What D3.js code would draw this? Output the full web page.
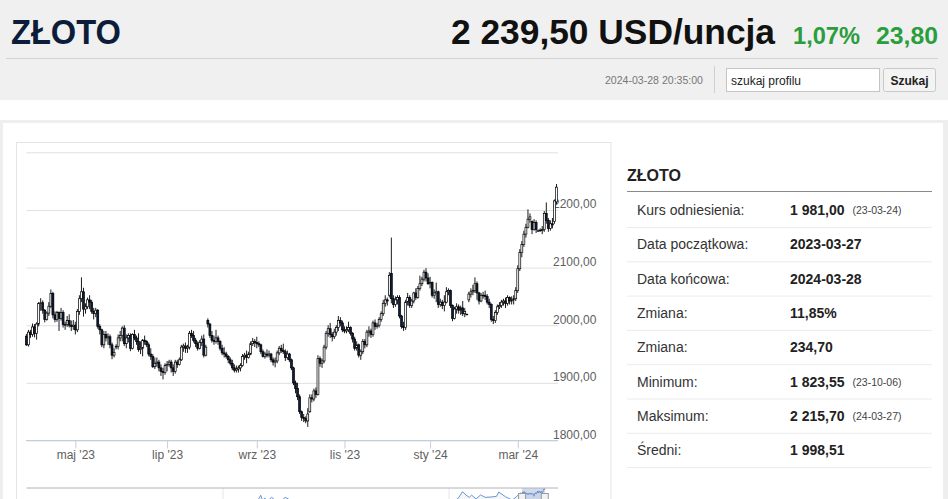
<!DOCTYPE html>
<html>
<head>
<meta charset="utf-8">
<script src="https://cdn.jsdelivr.net/npm/d3@7"></script>
<style>
  body { margin: 0; background: #fff; }
  svg { display: block; font-family: "Liberation Sans", Arial, sans-serif; }
</style>
</head>
<body>
<script>
// ---- data (gold, daily OHLC, 2023-03-27 .. 2024-03-28) ----
const holidays = ["2023-04-07", "2023-12-25", "2024-01-01"]

const opens = [
  1981,1966,1988,1984,1997, 1986,2002,2038,2039, 2026,2010,2021,2033,2055, 2018,2010,2022,2012,2022, 2001,2001,2008,2000,1998,
  2000,1992,2024,2046,2058, 2028,2032,2044,2040,2024, 2020,2026,1998,1992,1966, 1984,1978,1980,1966,1948,
  1963,1963,1978,1982,1995, 1968,1978,1982,1960,1984, 1978,1972,1958,1960,1974, 1972,1966,1950,1946,1928, 1934,1936,1926,1920,1918,
  1930,1932,1936,1926,1920, 1936,1932,1940,1962,1964, 1960,1962,1986,1982,1974, 1968,1960,1970,1976,1948,
  2008,2002,1982,1974,1972, 1978,1972,1960,1952,1950, 1946,1940,1934,1926,1922, 1924,1926,1930,1946,1948, 1944,1950,1968,1972,1970,
  1968,1966,1954,1946,1950, 1948,1950,1940,1936,1938, 1952,1960,1956,1954,1944, 1950,1940,1926,1900,1890,
  1876,1850,1840,1838,1834, 1850,1874,1872,1886,1880, 1942,1934,1938,1962,1986, 1994,1984,1980,1988,1996,
  2008,2004,1992,1990,1992, 1996,1986,1976,1960,1966, 1948,1954,1972,1966,1988, 1990,1984,2004,1998,2000,
  2010,2020,2038,2044,2052, 2090,2046,2036,2044,2048, 2016,1998,1996,2040,2048, 2034,2042,2056,2048,2064, 2072,2080,2092,2082,
  2072,2074,2052,2056, 2058,2036,2040,2034,2040, 2058,2060,2034,2012,2028, 2032,2026,2030,2020,2019,
  2044,2054,2058,2060,2072, 2056,2042,2052,2052,2050, 2040,2036,2010,2008,2022, 2032,2034,2040,2042,2038, 2048,2042,2044,2046,2060,
  2098,2126,2140,2158,2170, 2184,2180,2166,2178,2164, 2164,2164,2166,2194,2182, 2168,2176,2180,2214
]
const highs = [
  1985,1992,1992,2003,2002, 2005,2040,2047,2043, 2028,2024,2040,2062,2058, 2024,2025,2024,2030,2026, 2006,2016,2019,2008,2009,
  2006,2028,2052,2083,2065, 2038,2048,2052,2044,2030, 2030,2028,2002,1994,1990, 1990,1986,1984,1970,1960,
  1967,1984,1990,1998,2000, 1984,1986,1986,1986,1992, 1982,1986,1972,1976,1982, 1974,1970,1960,1950,1944, 1944,1940,1932,1926,1934,
  1938,1940,1940,1932,1940, 1940,1944,1966,1968,1970, 1966,1990,1992,1990,1978, 1972,1974,1982,1984,1966,
  2012,2004,1990,1982,1992, 1982,1974,1966,1962,1954, 1948,1944,1940,1932,1930, 1930,1934,1950,1952,1956, 1954,1972,1978,1976,1980,
  1972,1968,1958,1954,1958, 1956,1952,1944,1944,1956, 1964,1966,1968,1958,1956, 1952,1942,1928,1904,1900,
  1880,1852,1846,1842,1856, 1880,1880,1890,1892,1948, 1946,1942,1966,1990,2000, 2004,1988,1994,2000,2016,
  2014,2008,1998,1998,2006, 1998,1988,1980,1972,1968, 1958,1976,1976,1992,1998, 1994,2008,2010,2004,2014,
  2024,2044,2052,2048,2092, 2152,2052,2050,2052,2052, 2018,2006,2044,2056,2052, 2046,2058,2064,2068,2086, 2084,2096,2099,2090,
  2084,2076,2062,2074, 2060,2046,2044,2052,2066, 2064,2062,2036,2032,2038, 2036,2034,2042,2030,2020,
  2058,2064,2070,2083,2076, 2058,2056,2058,2060,2054, 2046,2038,2016,2026,2036, 2040,2044,2046,2048,2052, 2050,2050,2052,2066,2104,
  2132,2146,2164,2176,2201, 2194,2182,2184,2182,2166, 2168,2172,2198,2213,2186, 2182,2186,2218,2245
]
const lows = [
  1964,1963,1978,1980,1979, 1975,1998,2025,2020, 2005,2008,2016,2030,2012, 2005,2006,1990,2008,1996, 1992,1997,1996,1990,1992,
  1984,1988,2018,2040,2015, 2020,2028,2028,2020,2010, 2014,1994,1984,1962,1960, 1972,1966,1960,1941,1944,
  1958,1958,1972,1972,1964, 1960,1970,1955,1958,1974, 1966,1954,1950,1946,1966, 1962,1946,1940,1926,1924, 1928,1920,1912,1906,1914,
  1920,1928,1918,1912,1916, 1926,1930,1938,1954,1952, 1952,1958,1978,1970,1962, 1956,1958,1964,1944,1946,
  1996,1978,1970,1966,1968, 1966,1956,1948,1944,1942, 1934,1930,1922,1918,1918, 1918,1920,1928,1940,1934, 1942,1948,1964,1962,1960,
  1962,1950,1944,1942,1944, 1944,1936,1930,1927,1934, 1948,1952,1950,1938,1940, 1936,1922,1896,1882,1870,
  1846,1834,1832,1830,1823.55, 1848,1866,1868,1874,1878, 1928,1926,1934,1958,1980, 1978,1972,1976,1982,1990,
  1998,1988,1986,1986,1988, 1982,1970,1956,1956,1944, 1940,1950,1960,1962,1980, 1978,1980,1992,1994,1996,
  2006,2016,2032,2034,2048, 2038,2030,2032,2036,2012, 1994,1990,1992,2034,2030, 2030,2038,2044,2046,2060, 2068,2076,2076,2070,
  2064,2048,2046,2040, 2030,2032,2028,2024,2038, 2052,2030,2007,2010,2020, 2020,2018,2016,2014,2018,
  2040,2048,2052,2056,2044, 2036,2040,2046,2044,2036, 2030,2006,2002,2004,2018, 2028,2030,2034,2030,2034, 2036,2036,2036,2042,2056,
  2094,2118,2136,2152,2168, 2178,2158,2164,2160,2162, 2162,2158,2162,2176,2162, 2164,2168,2176,2210
]
const closes = [
  1966,1988,1984,1997,1986, 2002,2038,2039,2026, 2010,2021,2033,2055,2018, 2010,2022,2012,2022,2001, 2001,2008,2000,1998,2000,
  1992,2024,2046,2058,2028, 2032,2044,2040,2024,2020, 2026,1998,1992,1966,1984, 1978,1980,1966,1948,1953,
  1963,1978,1982,1995,1968, 1978,1982,1960,1984,1978, 1972,1958,1960,1974,1972, 1966,1950,1946,1928,1934, 1936,1926,1920,1918,1930,
  1932,1936,1926,1920,1936, 1932,1940,1962,1964,1960, 1962,1986,1982,1974,1968, 1960,1970,1976,1948,1962,
  2002,1982,1974,1972,1978, 1972,1960,1952,1950,1946, 1940,1934,1926,1922,1924, 1926,1930,1946,1948,1944, 1950,1968,1972,1970,1968,
  1966,1954,1946,1950,1948, 1950,1940,1936,1938,1952, 1960,1956,1954,1944,1950, 1940,1926,1900,1890,1876,
  1850,1840,1838,1834,1846, 1874,1872,1886,1880,1942, 1934,1938,1962,1986,1994, 1984,1980,1988,1996,2008,
  2004,1992,1990,1992,1996, 1986,1976,1960,1966,1948, 1954,1972,1966,1988,1990, 1984,2004,1998,2000,2010,
  2020,2038,2044,2042,2086, 2046,2036,2044,2048,2016, 1998,1996,2040,2048,2034, 2042,2056,2048,2064,2072, 2080,2092,2082,2072,
  2074,2052,2056,2058, 2036,2040,2034,2040,2058, 2060,2034,2012,2028,2032, 2026,2030,2020,2024,2019,
  2054,2058,2060,2072,2056, 2042,2052,2052,2050,2040, 2036,2010,2008,2022,2032, 2034,2040,2042,2038,2048, 2042,2044,2046,2060,2098,
  2126,2140,2158,2170,2184, 2188,2166,2178,2166,2164, 2165,2166,2194,2182,2168, 2176,2174,2215.7,2239.5
]

// axis ticks
const yTicks = [1800, 1900, 2000, 2100, 2200, 2300]
const xTickDays = ["2023-05-01", "2023-07-03", "2023-09-01", "2023-11-01", "2024-01-02", "2024-03-01"]
const xTickLabels = ["maj '23", "lip '23", "wrz '23", "lis '23", "sty '24", "mar '24"]

// navigator history (decimal year, price) before the shown range
const navYears = [2000,2001,2002,2003,2004,2005,2006,2007,2008,2008.7,2009,2009.9,2010,2010.5,2010.9,2011.3,2011.5,2011.6,2011.67,2011.75,2011.85,2011.95,2012.15,2012.4,2012.6,2012.75,2012.95,2013.2,2013.3,2013.5,2013.7,2014,2015,2016.5,2017,2018.3,2018.7,2019.3,2019.6,2019.9,2020.2,2020.4,2020.6,2020.75,2020.9,2021.0,2021.2,2021.4,2021.6,2021.9,2022.1,2022.2,2022.5,2022.8,2023.0,2023.15]
const navValues = [290,270,280,345,415,430,550,640,900,830,880,1200,1100,1240,1380,1500,1510,1750,1880,1620,1750,1570,1780,1560,1620,1780,1660,1590,1400,1230,1340,1220,1180,1340,1150,1340,1190,1280,1500,1480,1600,1720,2060,1890,1780,1890,1700,1900,1780,1800,1830,2040,1810,1640,1830,1990]
const navGridYears = [2010, 2020]

// side table
const statLabels = ["Kurs odniesienia:", "Data początkowa:", "Data końcowa:", "Zmiana:", "Zmiana:", "Minimum:", "Maksimum:", "Średni:"]
const statValues = ["1 981,00", "2023-03-27", "2024-03-28", "11,85%", "234,70", "1 823,55", "2 215,70", "1 998,51"]
const statDates = ["(23-03-24)", "", "", "", "", "(23-10-06)", "(24-03-27)", ""]

// ---- layout ----
const W = 948, H = 499
const PLOT = { LEFT: 26.4, RIGHT: 556.5, GRID_RIGHT: 558, TOP: 152.3, BOTTOM: 440.5 }
const FONT = "'Liberation Sans', Arial, sans-serif"

const fmtDay = d3.timeFormat("%Y-%m-%d")
const days = d3.timeDay.range(new Date(2023, 2, 27), new Date(2024, 2, 29))
  .filter(d => d.getDay() !== 0 && d.getDay() !== 6)
  .map(fmtDay)
  .filter(d => !holidays.includes(d))

const data = days.map((d, i) => ({ day: d, o: opens[i], h: highs[i], l: lows[i], c: closes[i] }))

const svg = d3.select("body").append("svg")
  .attr("width", W)
  .attr("height", H)

// header band
svg.append("rect").attr("width", W).attr("height", 100).attr("fill", "#f0f0f0")

svg.append("text")
  .attr("x", 11).attr("y", 43.5)
  .attr("font-size", 35).attr("font-weight", "bold").attr("fill", "#0c1d3a")
  .attr("textLength", 110).attr("lengthAdjust", "spacingAndGlyphs")
  .text("ZŁOTO")

svg.append("text")
  .attr("x", 451).attr("y", 43.5)
  .attr("font-size", 35).attr("font-weight", "bold").attr("fill", "#111")
  .attr("textLength", 324).attr("lengthAdjust", "spacingAndGlyphs")
  .text("2 239,50 USD/uncja")

svg.append("text")
  .attr("x", 793).attr("y", 43.5)
  .attr("font-size", 24).attr("font-weight", "bold").attr("fill", "#2a9d3c")
  .attr("textLength", 67).attr("lengthAdjust", "spacingAndGlyphs")
  .text("1,07%")

svg.append("text")
  .attr("x", 876).attr("y", 43.5)
  .attr("font-size", 24).attr("font-weight", "bold").attr("fill", "#2a9d3c")
  .attr("textLength", 62).attr("lengthAdjust", "spacingAndGlyphs")
  .text("23,80")

svg.append("line")
  .attr("x1", 6).attr("x2", 938).attr("y1", 58.5).attr("y2", 58.5)
  .attr("stroke", "#d2d2d2")

svg.append("text")
  .attr("x", 703).attr("y", 84).attr("text-anchor", "end")
  .attr("font-size", 11).attr("fill", "#777")
  .attr("textLength", 98).attr("lengthAdjust", "spacingAndGlyphs")
  .text("2024-03-28 20:35:00")

svg.append("line")
  .attr("x1", 714.5).attr("x2", 714.5).attr("y1", 66).attr("y2", 93)
  .attr("stroke", "#d0d0d0")

svg.append("rect")
  .attr("x", 726.5).attr("y", 68.5).attr("width", 153).attr("height", 23)
  .attr("fill", "#fff").attr("stroke", "#c4c4c4")
svg.append("text")
  .attr("x", 731).attr("y", 84.5).attr("font-size", 12).attr("fill", "#222")
  .text("szukaj profilu")

svg.append("rect")
  .attr("x", 883.5).attr("y", 68.5).attr("width", 52).attr("height", 23).attr("rx", 2)
  .attr("fill", "#f4f4f4").attr("stroke", "#c8c8c8")
svg.append("text")
  .attr("x", 909.5).attr("y", 84.5).attr("text-anchor", "middle")
  .attr("font-size", 12).attr("font-weight", "bold").attr("fill", "#222")
  .text("Szukaj")

// content frame
svg.append("rect").attr("y", 120).attr("width", W).attr("height", 3).attr("fill", "#eeeeee")
svg.append("rect").attr("y", 120).attr("width", 3).attr("height", H - 120).attr("fill", "#eeeeee")
svg.append("rect").attr("x", 943).attr("y", 120).attr("width", 5).attr("height", H - 120).attr("fill", "#eeeeee")

svg.append("rect")
  .attr("x", 16.5).attr("y", 142.5).attr("width", 594.5).attr("height", 400)
  .attr("fill", "#fff").attr("stroke", "#e4e4e4")

// ---- scales ----
const x = d3.scalePoint()
  .domain(days)
  .range([PLOT.LEFT, PLOT.RIGHT])

const y = d3.scaleLinear()
  .domain([1800, 2300])
  .range([PLOT.BOTTOM, PLOT.TOP])

const fmtNum = v => d3.format(".2f")(v).replace(".", ",")

// Y grid + labels
const yAxisGroup = svg.append("g")
  .attr("transform", `translate(${PLOT.LEFT}, 0)`)
  .call(d3.axisRight(y)
    .tickValues(yTicks)
    .tickSize(PLOT.GRID_RIGHT - PLOT.LEFT)
    .tickFormat(d => d === 2300 ? "" : fmtNum(d)))
yAxisGroup.select(".domain").remove()
yAxisGroup.selectAll("line").attr("stroke", "#e0e0e0")
yAxisGroup.selectAll("text")
  .attr("x", 553 - PLOT.LEFT)
  .attr("y", -2)
  .attr("dy", 0)
  .attr("font-family", FONT)
  .attr("font-size", 12)
  .attr("fill", "#606060")

// X axis
svg.append("line")
  .attr("x1", PLOT.LEFT - 0.4).attr("x2", PLOT.GRID_RIGHT)
  .attr("y1", PLOT.BOTTOM).attr("y2", PLOT.BOTTOM)
  .attr("stroke", "#c0d0e0")

const xAxisGroup = svg.append("g")
  .attr("transform", `translate(0, ${PLOT.BOTTOM})`)
  .call(d3.axisBottom(x)
    .tickValues(xTickDays)
    .tickSize(8)
    .tickFormat((d, i) => xTickLabels[i]))
xAxisGroup.select(".domain").remove()
xAxisGroup.selectAll("line").attr("stroke", "#c0d0e0")
xAxisGroup.selectAll("text")
  .attr("y", 18)
  .attr("dy", 0)
  .attr("font-family", FONT)
  .attr("font-size", 12)
  .attr("fill", "#606060")

// ---- candles ----
const BODY = 1.9
const candles = svg.append("g").selectAll("g")
  .data(data)
  .enter().append("g")

candles.append("line")
  .attr("x1", d => x(d.day)).attr("x2", d => x(d.day))
  .attr("y1", d => y(d.h)).attr("y2", d => y(d.l))
  .attr("stroke", "#000")
  .attr("stroke-width", 0.9)

candles.append("rect")
  .attr("x", d => x(d.day) - BODY / 2)
  .attr("y", d => y(Math.max(d.o, d.c)))
  .attr("width", BODY)
  .attr("height", d => Math.max(0.6, Math.abs(y(d.o) - y(d.c))))
  .attr("fill", d => d.c >= d.o ? "#ffffff" : "#0b1e3d")
  .attr("stroke", "#000")
  .attr("stroke-width", 0.7)

// ---- navigator (mostly cut off by the window) ----
const NAV_TOP = 488, NAV_BOTTOM = 528
const decYear = s => {
  const d = d3.timeParse("%Y-%m-%d")(s)
  return d.getFullYear() + d3.timeDay.count(d3.timeYear(d), d) / 365
}
const navPoints = navYears.map((t, i) => ({ t, v: navValues[i] }))
  .concat(data.map(d => ({ t: decYear(d.day), v: d.c })))

const nx = d3.scaleLinear().domain([2010, 2020]).range([223, 449])
const ny = d3.scaleLinear()
  .domain(d3.extent(navPoints, d => d.v))
  .range([NAV_BOTTOM, NAV_TOP])

svg.append("clipPath").attr("id", "navclip")
  .append("rect")
  .attr("x", PLOT.LEFT).attr("y", NAV_TOP)
  .attr("width", PLOT.GRID_RIGHT - PLOT.LEFT).attr("height", 40)

const nav = svg.append("g").attr("clip-path", "url(#navclip)")

nav.selectAll("line.grid")
  .data(navGridYears)
  .enter().append("line")
  .attr("x1", d => nx(d)).attr("x2", d => nx(d))
  .attr("y1", NAV_TOP).attr("y2", NAV_BOTTOM)
  .attr("stroke", "#e6e6e6")

nav.append("path")
  .datum(navPoints)
  .attr("fill", "rgba(69,114,167,0.06)")
  .attr("d", d3.area().x(d => nx(d.t)).y0(NAV_BOTTOM).y1(d => ny(d.v)))

nav.append("path")
  .datum(navPoints)
  .attr("fill", "none")
  .attr("stroke", "#6b93cc")
  .attr("stroke-width", 1)
  .attr("d", d3.line().x(d => nx(d.t)).y(d => ny(d.v)))

const m0 = nx(decYear(days[0])), m1 = nx(decYear(days[days.length - 1]))
nav.append("rect")
  .attr("x", m0).attr("y", NAV_TOP)
  .attr("width", m1 - m0).attr("height", 40)
  .attr("fill", "rgba(102,133,194,0.3)")

svg.append("line")
  .attr("x1", PLOT.LEFT).attr("x2", PLOT.GRID_RIGHT)
  .attr("y1", NAV_TOP).attr("y2", NAV_TOP)
  .attr("stroke", "#b2b1b6")

svg.selectAll("rect.handle")
  .data([m0, m1])
  .enter().append("rect")
  .attr("class", "handle")
  .attr("x", d => d - 3.5).attr("y", 493.5)
  .attr("width", 7).attr("height", 15)
  .attr("fill", "#f2f2f2").attr("stroke", "#999")

// ---- side table ----
const side = svg.append("g")

side.append("text")
  .attr("x", 627).attr("y", 181)
  .attr("font-size", 16).attr("font-weight", "bold").attr("fill", "#222")
  .text("ZŁOTO")

side.append("line")
  .attr("x1", 627).attr("x2", 932).attr("y1", 191.5).attr("y2", 191.5)
  .attr("stroke", "#8a8a8a")

const ROW0 = 210, ROW_H = 34.3

const rows = side.selectAll("g.row")
  .data(statLabels)
  .enter().append("g")
  .attr("transform", (d, i) => `translate(0, ${ROW0 + i * ROW_H})`)

rows.append("text")
  .attr("x", 637).attr("y", 5)
  .attr("font-size", 14).attr("fill", "#333")
  .text(d => d)

rows.append("text")
  .attr("x", 790).attr("y", 5)
  .attr("font-size", 14).attr("font-weight", "bold").attr("fill", "#222")
  .text((d, i) => statValues[i])

rows.append("text")
  .attr("x", 852.5).attr("y", 4)
  .attr("font-size", 10.5).attr("fill", "#444")
  .text((d, i) => statDates[i])

rows.append("line")
  .attr("x1", 627).attr("x2", 932).attr("y1", 17.5).attr("y2", 17.5)
  .attr("stroke", "#ececec")

svg.selectAll("text").attr("font-family", FONT)
</script>
</body>
</html>
